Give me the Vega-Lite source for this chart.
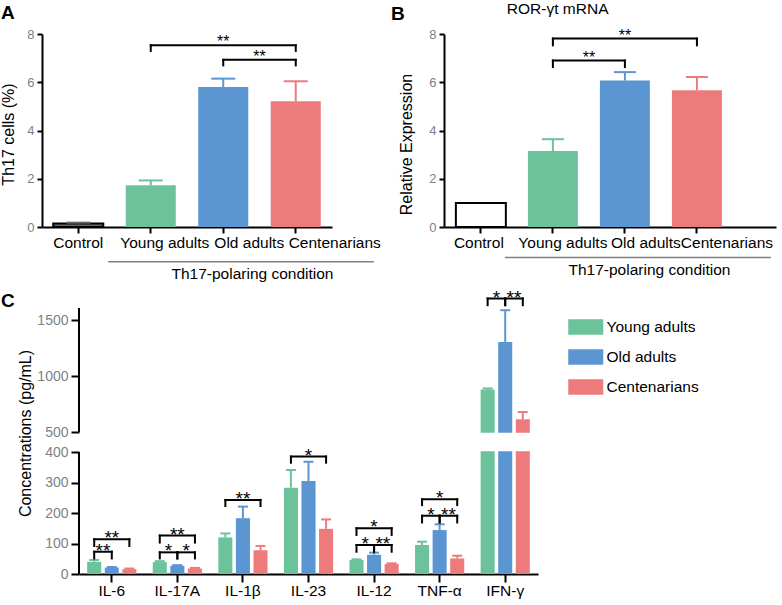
{
  "$schema": "https://vega.github.io/schema/vega-lite/v6.json",
  "background": "white",
  "padding": {"left": 0, "top": 2, "right": 5, "bottom": 2},
  "config": {
    "font": "Liberation Sans",
    "view": {"stroke": null},
    "axis": {"grid": false, "domainColor": "black", "domainWidth": 2, "tickColor": "black", "tickWidth": 2, "titleFontWeight": "normal", "titleColor": "black", "labelColor": "black"},
    "title": {"anchor": "start", "frame": "group", "fontSize": 19, "fontWeight": "bold", "baseline": "alphabetic", "color": "black"}
  },
  "datasets": {
    "th17": [
      {"group": "Control", "value": 0.15, "upper": 0.18},
      {"group": "Young adults", "value": 1.73, "upper": 1.93},
      {"group": "Old adults", "value": 5.8, "upper": 6.15},
      {"group": "Centenarians", "value": 5.21, "upper": 6.04}
    ],
    "ror": [
      {"group": "Control", "value": 1.0},
      {"group": "Young adults", "value": 3.15, "upper": 3.64},
      {"group": "Old adults", "value": 6.07, "upper": 6.42},
      {"group": "Centenarians", "value": 5.67, "upper": 6.22}
    ],
    "sigA": [
      {"from": "Young adults", "to": "Centenarians", "top": 7.53, "foot": 7.3, "label": "**"},
      {"from": "Old adults", "to": "Centenarians", "top": 6.93, "foot": 6.7, "label": "**"}
    ],
    "sigB": [
      {"from": "Young adults", "to": "Centenarians", "top": 7.81, "foot": 7.53, "label": "**"},
      {"from": "Young adults", "to": "Old adults", "top": 6.9, "foot": 6.63, "label": "**"}
    ],
    "cyto": [
      {"cytokine": "IL-6", "group": "Young adults", "value": 40, "upper": 46},
      {"cytokine": "IL-6", "group": "Old adults", "value": 21, "upper": 23},
      {"cytokine": "IL-6", "group": "Centenarians", "value": 16, "upper": 18},
      {"cytokine": "IL-17A", "group": "Young adults", "value": 39, "upper": 42},
      {"cytokine": "IL-17A", "group": "Old adults", "value": 27, "upper": 29},
      {"cytokine": "IL-17A", "group": "Centenarians", "value": 18, "upper": 20},
      {"cytokine": "IL-1β", "group": "Young adults", "value": 120, "upper": 133},
      {"cytokine": "IL-1β", "group": "Old adults", "value": 183, "upper": 221},
      {"cytokine": "IL-1β", "group": "Centenarians", "value": 78, "upper": 92},
      {"cytokine": "IL-23", "group": "Young adults", "value": 283, "upper": 341},
      {"cytokine": "IL-23", "group": "Old adults", "value": 305, "upper": 368},
      {"cytokine": "IL-23", "group": "Centenarians", "value": 148, "upper": 179},
      {"cytokine": "IL-12", "group": "Young adults", "value": 46, "upper": 48},
      {"cytokine": "IL-12", "group": "Old adults", "value": 63, "upper": 70},
      {"cytokine": "IL-12", "group": "Centenarians", "value": 33, "upper": 35},
      {"cytokine": "TNF-α", "group": "Young adults", "value": 95, "upper": 106},
      {"cytokine": "TNF-α", "group": "Old adults", "value": 144, "upper": 163},
      {"cytokine": "TNF-α", "group": "Centenarians", "value": 51, "upper": 60},
      {"cytokine": "IFN-γ", "group": "Young adults", "value": 880, "upper": 890},
      {"cytokine": "IFN-γ", "group": "Old adults", "value": 1306, "upper": 1590},
      {"cytokine": "IFN-γ", "group": "Centenarians", "value": 614, "upper": 679}
    ],
    "sigC": [
      {"cytokine": "IL-6", "from": "Young adults", "to": "Centenarians", "top": 114, "foot": 92, "label": "**"},
      {"cytokine": "IL-6", "from": "Young adults", "to": "Old adults", "top": 73, "foot": 51, "label": "**"},
      {"cytokine": "IL-17A", "from": "Young adults", "to": "Centenarians", "top": 126, "foot": 103, "label": "**"},
      {"cytokine": "IL-17A", "from": "Young adults", "to": "Old adults", "top": 71, "foot": 51, "label": "*"},
      {"cytokine": "IL-17A", "from": "Old adults", "to": "Centenarians", "top": 71, "foot": 51, "label": "*"},
      {"cytokine": "IL-1β", "from": "Young adults", "to": "Centenarians", "top": 243, "foot": 223, "label": "**"},
      {"cytokine": "IL-23", "from": "Young adults", "to": "Centenarians", "top": 385, "foot": 365, "label": "*"},
      {"cytokine": "IL-12", "from": "Young adults", "to": "Centenarians", "top": 150, "foot": 128, "label": "*"},
      {"cytokine": "IL-12", "from": "Young adults", "to": "Old adults", "top": 95, "foot": 73, "label": "*"},
      {"cytokine": "IL-12", "from": "Old adults", "to": "Centenarians", "top": 95, "foot": 73, "label": "**"},
      {"cytokine": "TNF-α", "from": "Young adults", "to": "Centenarians", "top": 245, "foot": 226, "label": "*"},
      {"cytokine": "TNF-α", "from": "Young adults", "to": "Old adults", "top": 191, "foot": 169, "label": "*"},
      {"cytokine": "TNF-α", "from": "Old adults", "to": "Centenarians", "top": 191, "foot": 169, "label": "**"},
      {"cytokine": "IFN-γ", "from": "Young adults", "to": "Old adults", "top": 1695, "foot": 1635, "label": "*"},
      {"cytokine": "IFN-γ", "from": "Old adults", "to": "Centenarians", "top": 1695, "foot": 1635, "label": "**"}
    ]
  },
  "spacing": 6,
  "resolve": {"scale": {"color": "independent", "x": "independent", "y": "independent"}, "legend": {"color": "independent"}},
  "vconcat": [
    {
      "hconcat": [
        {
          "width": 290,
          "height": 193,
          "title": {"text": "A", "dx": -41, "offset": 5},
          "data": {"name": "th17"},
          "layer": [
            {
              "mark": {"type": "bar", "strokeWidth": 2, "opacity": 1},
              "encoding": {
                "x": {"field": "group", "type": "nominal", "sort": null,
                  "scale": {"domain": ["Control", "Young adults", "Old adults", "Centenarians"], "paddingInner": 0.31, "paddingOuter": 0.155},
                  "axis": {"title": "Th17-polaring condition", "titleFontSize": 15.5, "titleX": 210, "titleY": 39, "labelAngle": 0, "labelFontSize": 15.5, "labelPadding": 2, "tickSize": 6, "labelOverlap": false,
                    "labelOffset": {"condition": [{"test": "datum.value === 'Young adults'", "value": 14}, {"test": "datum.value === 'Old adults'", "value": 26}, {"test": "datum.value === 'Centenarians'", "value": 39}], "value": 0}}},
                "y": {"field": "value", "type": "quantitative", "scale": {"domain": [0, 8]},
                  "axis": {"title": "Th17 cells (%)", "values": [0, 2, 4, 6, 8], "tickCount": 10, "format": "d", "labelOverlap": false, "tickSize": 5, "labelPadding": 3, "labelFontSize": 13, "labelColor": "#7f7f7f", "titleFontSize": 16, "titleX": -34, "titleY": 100, "titleBaseline": "middle"}},
                "color": {"field": "group", "type": "nominal", "scale": {"domain": ["Control", "Young adults", "Old adults", "Centenarians"], "range": ["#666666", "#6cc29a", "#5c96d2", "#ee7b7b"]}, "legend": null},
                "stroke": {"condition": {"test": "datum.group === 'Control'", "value": "black"}, "value": null}
              }
            },
            {
              "mark": {"type": "rule", "strokeWidth": 2},
              "encoding": {
                "x": {"field": "group", "type": "nominal"},
                "y": {"field": "value", "type": "quantitative", "scale": {"domain": [0, 8]}},
                "y2": {"field": "upper"},
                "color": {"field": "group", "type": "nominal", "legend": null}
              }
            },
            {
              "mark": {"type": "tick", "orient": "horizontal", "size": 24, "thickness": 2, "opacity": 1},
              "encoding": {
                "x": {"field": "group", "type": "nominal"},
                "y": {"field": "upper", "type": "quantitative", "scale": {"domain": [0, 8]}},
                "color": {"field": "group", "type": "nominal", "legend": null}
              }
            },
            {
              "data": {"name": "sigA"},
              "transform": [{"fold": ["from", "to"], "as": ["end", "grp"]}],
              "mark": {"type": "rule", "color": "black", "strokeWidth": 2, "strokeCap": "square"},
              "encoding": {"x": {"field": "grp", "type": "nominal"}, "y": {"field": "foot", "type": "quantitative", "scale": {"domain": [0, 8]}}, "y2": {"field": "top"}}
            },
            {
              "data": {"name": "sigA"},
              "transform": [{"fold": ["from", "to"], "as": ["end", "grp"]}],
              "mark": {"type": "line", "color": "black", "strokeWidth": 2, "strokeCap": "square"},
              "encoding": {"x": {"field": "grp", "type": "nominal"}, "y": {"field": "top", "type": "quantitative", "scale": {"domain": [0, 8]}}, "detail": [{"field": "from", "type": "nominal"}, {"field": "to", "type": "nominal"}]}
            },
            {
              "data": {"name": "sigA"},
              "transform": [{"filter": "!(datum.from === 'Young adults' && datum.to === 'Centenarians')"}],
              "mark": {"type": "text", "fontSize": 16, "baseline": "alphabetic", "dx": 36.25, "dy": 2},
              "encoding": {"x": {"field": "from", "type": "nominal"}, "y": {"field": "top", "type": "quantitative", "scale": {"domain": [0, 8]}}, "text": {"field": "label"}}
            },
            {
              "data": {"name": "sigA"},
              "transform": [{"filter": "datum.from === 'Young adults' && datum.to === 'Centenarians'"}],
              "mark": {"type": "text", "fontSize": 16, "baseline": "alphabetic", "dx": 72.5, "dy": 2},
              "encoding": {"x": {"field": "from", "type": "nominal"}, "y": {"field": "top", "type": "quantitative", "scale": {"domain": [0, 8]}}, "text": {"field": "label"}}
            },
            {
              "data": {"values": [{"note": "Th17-polaring condition"}]},
              "mark": {"type": "rule", "color": "#808080", "strokeWidth": 1.5, "xOffset": -42.5, "x2Offset": 78},
              "encoding": {"x": {"datum": "Young adults"}, "x2": {"datum": "Centenarians"}, "y": {"datum": -1.44, "scale": {"domain": [0, 8]}}}
            }
          ]
        },
        {
          "width": 332,
          "height": 193,
          "title": {"text": "B", "dx": -53, "offset": -22},
          "data": {"name": "ror"},
          "layer": [
            {
              "mark": {"type": "bar", "strokeWidth": 2, "opacity": 1},
              "encoding": {
                "x": {"field": "group", "type": "nominal", "sort": null,
                  "scale": {"domain": ["Control", "Young adults", "Old adults", "Centenarians"], "paddingInner": 0.306, "paddingOuter": 0.458, "align": 0.18},
                  "axis": {"title": "Th17-polaring condition", "titleFontSize": 15.5, "titleX": 205, "titleY": 35, "labelAngle": 0, "labelFontSize": 15.5, "labelPadding": 2, "tickSize": 6, "labelOverlap": false,
                    "labelOffset": {"condition": [{"test": "datum.value === 'Control'", "value": -2}, {"test": "datum.value === 'Young adults'", "value": 10}, {"test": "datum.value === 'Old adults'", "value": 21}, {"test": "datum.value === 'Centenarians'", "value": 30}], "value": 0}}},
                "y": {"field": "value", "type": "quantitative", "scale": {"domain": [0, 8]},
                  "axis": {"title": "Relative Expression", "values": [0, 2, 4, 6, 8], "tickCount": 10, "format": "d", "labelOverlap": false, "tickSize": 5, "labelPadding": 3, "labelFontSize": 13, "labelColor": "#7f7f7f", "titleFontSize": 16, "titleX": -38, "titleY": 110, "titleBaseline": "middle"}},
                "color": {"field": "group", "type": "nominal", "scale": {"domain": ["Control", "Young adults", "Old adults", "Centenarians"], "range": ["#ffffff", "#6cc29a", "#5c96d2", "#ee7b7b"]}, "legend": null},
                "stroke": {"condition": {"test": "datum.group === 'Control'", "value": "black"}, "value": null}
              }
            },
            {
              "transform": [{"filter": "datum.upper != null"}],
              "mark": {"type": "rule", "strokeWidth": 2},
              "encoding": {
                "x": {"field": "group", "type": "nominal"},
                "y": {"field": "value", "type": "quantitative", "scale": {"domain": [0, 8]}},
                "y2": {"field": "upper"},
                "color": {"field": "group", "type": "nominal", "legend": null}
              }
            },
            {
              "transform": [{"filter": "datum.upper != null"}],
              "mark": {"type": "tick", "orient": "horizontal", "size": 22, "thickness": 2, "opacity": 1},
              "encoding": {
                "x": {"field": "group", "type": "nominal"},
                "y": {"field": "upper", "type": "quantitative", "scale": {"domain": [0, 8]}},
                "color": {"field": "group", "type": "nominal", "legend": null}
              }
            },
            {
              "data": {"name": "sigB"},
              "transform": [{"fold": ["from", "to"], "as": ["end", "grp"]}],
              "mark": {"type": "rule", "color": "black", "strokeWidth": 2, "strokeCap": "square"},
              "encoding": {"x": {"field": "grp", "type": "nominal"}, "y": {"field": "foot", "type": "quantitative", "scale": {"domain": [0, 8]}}, "y2": {"field": "top"}}
            },
            {
              "data": {"name": "sigB"},
              "transform": [{"fold": ["from", "to"], "as": ["end", "grp"]}],
              "mark": {"type": "line", "color": "black", "strokeWidth": 2, "strokeCap": "square"},
              "encoding": {"x": {"field": "grp", "type": "nominal"}, "y": {"field": "top", "type": "quantitative", "scale": {"domain": [0, 8]}}, "detail": [{"field": "from", "type": "nominal"}, {"field": "to", "type": "nominal"}]}
            },
            {
              "data": {"name": "sigB"},
              "transform": [{"filter": "!(datum.from === 'Young adults' && datum.to === 'Centenarians')"}],
              "mark": {"type": "text", "fontSize": 16, "baseline": "alphabetic", "dx": 36, "dy": 2},
              "encoding": {"x": {"field": "from", "type": "nominal"}, "y": {"field": "top", "type": "quantitative", "scale": {"domain": [0, 8]}}, "text": {"field": "label"}}
            },
            {
              "data": {"name": "sigB"},
              "transform": [{"filter": "datum.from === 'Young adults' && datum.to === 'Centenarians'"}],
              "mark": {"type": "text", "fontSize": 16, "baseline": "alphabetic", "dx": 72, "dy": 2},
              "encoding": {"x": {"field": "from", "type": "nominal"}, "y": {"field": "top", "type": "quantitative", "scale": {"domain": [0, 8]}}, "text": {"field": "label"}}
            },
            {
              "data": {"values": [{"note": "Th17-polaring condition"}]},
              "mark": {"type": "rule", "color": "#808080", "strokeWidth": 1.5, "xOffset": -48, "x2Offset": 74},
              "encoding": {"x": {"datum": "Young adults"}, "x2": {"datum": "Centenarians"}, "y": {"datum": -1.26, "scale": {"domain": [0, 8]}}}
            },
            {
              "data": {"values": [{"title": "ROR-γt mRNA"}]},
              "mark": {"type": "text", "align": "left", "baseline": "alphabetic", "fontSize": 15.5, "dx": 26, "dy": -20},
              "encoding": {"x": {"datum": "Control"}, "y": {"datum": 8, "scale": {"domain": [0, 8]}}, "text": {"field": "title"}}
            }
          ]
        }
      ],
      "spacing": 112,
      "bounds": "flush",
      "resolve": {"scale": {"color": "independent", "x": "independent", "y": "independent"}, "legend": {"color": "independent"}}
    },
    {
      "width": 496,
      "height": 266,
      "title": {"text": "C", "dx": -41, "offset": -22},
      "layer": [
        {
          "data": {"name": "cyto"},
          "mark": {"type": "bar", "opacity": 1},
          "encoding": {
            "x": {"field": "cytokine", "type": "nominal", "sort": null,
              "scale": {"domain": ["IL-6", "IL-17A", "IL-1β", "IL-23", "IL-12", "TNF-α", "IFN-γ"], "range": [37, 496], "paddingInner": 0, "paddingOuter": 0},
              "axis": {"title": null, "labelAngle": 0, "labelFontSize": 15.5, "labelPadding": 1, "tickSize": 8, "labelOverlap": false}},
            "xOffset": {"field": "group", "type": "nominal", "sort": null, "scale": {"domain": ["Young adults", "Old adults", "Centenarians"], "paddingInner": 0.2, "paddingOuter": 0.465}},
            "y": {"field": "value", "type": "quantitative",
              "scale": {"domain": [0, 400, 500, 1610], "range": [266, 144, 124, 0], "nice": false},
              "axis": {"title": "Concentrations (pg/mL)", "values": [0, 100, 200, 300, 400, 500, 1000, 1500], "tickCount": 20, "format": "d", "labelOverlap": false, "domain": false, "offset": -37, "zindex": 1, "tickSize": 8, "labelPadding": 3, "labelFontSize": 14, "labelColor": "#7f7f7f", "titleFontSize": 16, "titleX": -54, "titleY": 125, "titleBaseline": "middle"}},
            "color": {"field": "group", "type": "nominal",
              "scale": {"domain": ["Young adults", "Old adults", "Centenarians"], "range": ["#6cc29a", "#5c96d2", "#ee7b7b"]},
              "legend": {"orient": "none", "legendX": 534.75, "legendY": 10, "title": null, "symbolType": "M-2,-0.9L2,-0.9L2,0.9L-2,0.9Z", "symbolSize": 306, "symbolStrokeWidth": 0, "symbolOpacity": 1, "labelFontSize": 15.5, "labelColor": "black", "labelOffset": 11.75, "rowPadding": 12, "padding": 0}}
          }
        },
        {
          "data": {"values": [{"part": "axis break"}]},
          "mark": {"type": "rect", "color": "white"},
          "encoding": {"y": {"datum": 404, "type": "quantitative", "scale": {"domain": [0, 400, 500, 1610], "range": [266, 144, 124, 0], "nice": false}}, "y2": {"datum": 496}}
        },
        {
          "data": {"name": "cyto"},
          "mark": {"type": "rule", "strokeWidth": 2},
          "encoding": {
            "x": {"field": "cytokine", "type": "nominal"},
            "xOffset": {"field": "group", "type": "nominal"},
            "y": {"field": "value", "type": "quantitative", "scale": {"domain": [0, 400, 500, 1610], "range": [266, 144, 124, 0], "nice": false}},
            "y2": {"field": "upper"},
            "color": {"field": "group", "type": "nominal"}
          }
        },
        {
          "data": {"name": "cyto"},
          "mark": {"type": "tick", "orient": "horizontal", "size": 10, "thickness": 2, "opacity": 1},
          "encoding": {
            "x": {"field": "cytokine", "type": "nominal"},
            "xOffset": {"field": "group", "type": "nominal"},
            "y": {"field": "upper", "type": "quantitative", "scale": {"domain": [0, 400, 500, 1610], "range": [266, 144, 124, 0], "nice": false}},
            "color": {"field": "group", "type": "nominal"}
          }
        },
        {
          "data": {"name": "sigC"},
          "transform": [{"fold": ["from", "to"], "as": ["end", "grp"]}],
          "mark": {"type": "rule", "color": "black", "strokeWidth": 2, "strokeCap": "square"},
          "encoding": {"x": {"field": "cytokine", "type": "nominal"}, "xOffset": {"field": "grp", "type": "nominal"}, "y": {"field": "foot", "type": "quantitative", "scale": {"domain": [0, 400, 500, 1610], "range": [266, 144, 124, 0], "nice": false}}, "y2": {"field": "top"}}
        },
        {
          "data": {"name": "sigC"},
          "transform": [{"fold": ["from", "to"], "as": ["end", "grp"]}],
          "mark": {"type": "line", "color": "black", "strokeWidth": 2, "strokeCap": "square"},
          "encoding": {"x": {"field": "cytokine", "type": "nominal"}, "xOffset": {"field": "grp", "type": "nominal"}, "y": {"field": "top", "type": "quantitative", "scale": {"domain": [0, 400, 500, 1610], "range": [266, 144, 124, 0], "nice": false}}, "detail": [{"field": "cytokine", "type": "nominal"}, {"field": "from", "type": "nominal"}, {"field": "to", "type": "nominal"}]}
        },
        {
          "data": {"name": "sigC"},
          "transform": [{"filter": "!(datum.from === 'Young adults' && datum.to === 'Centenarians')"}],
          "mark": {"type": "text", "fontSize": 19, "baseline": "alphabetic", "dx": 8.79, "dy": 5},
          "encoding": {"x": {"field": "cytokine", "type": "nominal"}, "xOffset": {"field": "from", "type": "nominal"}, "y": {"field": "top", "type": "quantitative", "scale": {"domain": [0, 400, 500, 1610], "range": [266, 144, 124, 0], "nice": false}}, "text": {"field": "label"}}
        },
        {
          "data": {"name": "sigC"},
          "transform": [{"filter": "datum.from === 'Young adults' && datum.to === 'Centenarians'"}],
          "mark": {"type": "text", "fontSize": 19, "baseline": "alphabetic", "dx": 17.58, "dy": 5},
          "encoding": {"x": {"field": "cytokine", "type": "nominal"}, "xOffset": {"field": "from", "type": "nominal"}, "y": {"field": "top", "type": "quantitative", "scale": {"domain": [0, 400, 500, 1610], "range": [266, 144, 124, 0], "nice": false}}, "text": {"field": "label"}}
        },
        {
          "data": {"values": [{"part": "lower y axis"}]},
          "mark": {"type": "rule", "color": "black", "strokeWidth": 2, "xOffset": -32.8},
          "encoding": {"x": {"datum": "IL-6"}, "y": {"datum": 0, "scale": {"domain": [0, 400, 500, 1610], "range": [266, 144, 124, 0], "nice": false}}, "y2": {"datum": 400}}
        },
        {
          "data": {"values": [{"part": "upper y axis"}]},
          "mark": {"type": "rule", "color": "black", "strokeWidth": 2, "xOffset": -32.8},
          "encoding": {"x": {"datum": "IL-6"}, "y": {"datum": 500, "scale": {"domain": [0, 400, 500, 1610], "range": [266, 144, 124, 0], "nice": false}}, "y2": {"datum": 1610}}
        }
      ]
    }
  ]
}
